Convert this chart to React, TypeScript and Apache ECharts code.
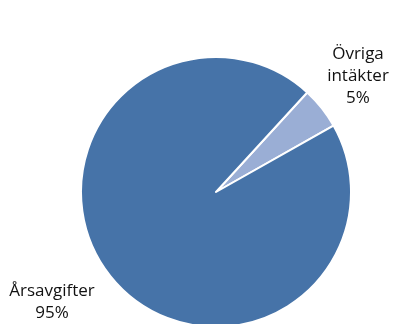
import React, { useEffect, useRef } from "react";
import * as echarts from "echarts";

const categories = ["Övriga\nintäkter", "Årsavgifter"];
const values = [5, 95];
const colors = ["#9AAED5", "#4673A8"];

export default function App() {
  const ref = useRef<HTMLDivElement>(null);
  useEffect(() => {
    if (!ref.current) return;
    const chart = echarts.init(ref.current, undefined, { renderer: "svg" });
    chart.setOption({
      animation: false,
      series: [
        {
          type: "pie",
          center: [216, 192],
          radius: 135,
          startAngle: 47.5,
          clockwise: true,
          data: categories.map((c, i) => ({
            name: c,
            value: values[i],
            itemStyle: { color: colors[i] },
          })),
          itemStyle: { borderColor: "#ffffff", borderWidth: 2 },
          label: {
            show: true,
            position: "outside",
            formatter: "{b}\n{d}%",
            fontFamily: "Open Sans",
            fontSize: 17,
            lineHeight: 22,
            color: "#111111",
            align: "center",
            overflow: "none",
            width: 200,
          },
          labelLine: { show: false },
          labelLayout: (params: any) =>
            params.dataIndex === 0
              ? { x: 358, y: 74, align: "center", verticalAlign: "middle" }
              : { x: 52, y: 300, align: "center", verticalAlign: "middle" },
          emphasis: { disabled: true },
        },
      ],
    });
    return () => chart.dispose();
  }, []);
  return (
    <div
      ref={ref}
      style={{ position: "fixed", left: 0, top: 0, width: 399, height: 324 }}
    />
  );
}
